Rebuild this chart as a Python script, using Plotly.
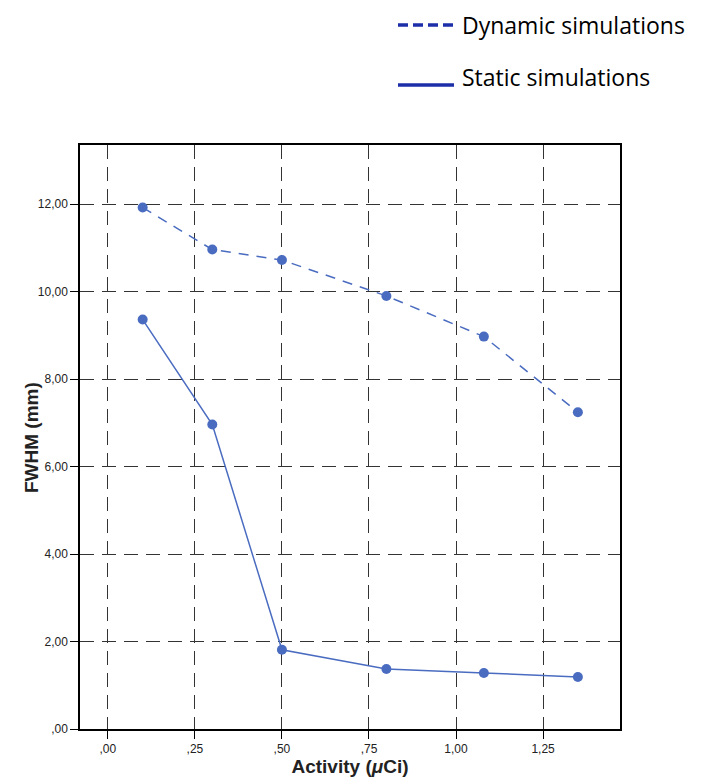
import plotly.graph_objects as go

activity = [0.10, 0.30, 0.50, 0.80, 1.08, 1.35]
fwhm_dynamic = [11.92, 10.96, 10.72, 9.90, 8.97, 7.24]
fwhm_static = [9.36, 6.96, 1.81, 1.37, 1.28, 1.19]

x_tickvals = [0.0, 0.25, 0.5, 0.75, 1.0, 1.25]
x_ticktext = [",00", ",25", ",50", ",75", "1,00", "1,25"]
y_tickvals = [0, 2, 4, 6, 8, 10, 12]
y_ticktext = [",00", "2,00", "4,00", "6,00", "8,00", "10,00", "12,00"]

legend_names = ["Dynamic simulations", "Static simulations"]
x_title = "<b>Activity (<i>μ</i>Ci)</b>"
y_title = "<b>FWHM (mm)</b>"

series_color = "#4a6cc0"
legend_color = "#1c2fa8"
grid_color = "#333333"

fig = go.Figure()
fig.add_trace(go.Scatter(x=activity, y=fwhm_dynamic, mode="lines+markers",
                         line=dict(color=series_color, width=1.5, dash="10px,8px"),
                         marker=dict(color=series_color, size=10),
                         showlegend=False, name=legend_names[0]))
fig.add_trace(go.Scatter(x=activity, y=fwhm_static, mode="lines+markers",
                         line=dict(color=series_color, width=1.5),
                         marker=dict(color=series_color, size=10),
                         showlegend=False, name=legend_names[1]))

OFF = 8  # page body margin
W, H = 716, 779
BX0, BX1, BY0, BY1 = 80, 620, 145, 729
L = BX0 - OFF
T = BY0 - OFF
pw, ph = BX1 - BX0, BY1 - BY0
R = W - L - pw
B = H - T - ph

def px(x):
    return (x - BX0) / pw

def py(y):
    return (BY1 - y) / ph

shapes = [
    dict(type="line", xref="paper", yref="paper", x0=px(398), x1=px(454), y0=py(25), y1=py(25),
         line=dict(color=legend_color, width=3.5, dash="10px,5px")),
    dict(type="line", xref="paper", yref="paper", x0=px(398), x1=px(454), y0=py(85), y1=py(85),
         line=dict(color=legend_color, width=3.5)),
]
annotations = [
    dict(xref="paper", yref="paper", x=px(460), y=py(25), text=legend_names[0], showarrow=False,
         xanchor="left", yanchor="middle", font=dict(family="Open Sans", size=23, color="black")),
    dict(xref="paper", yref="paper", x=px(460), y=py(77), text=legend_names[1], showarrow=False,
         xanchor="left", yanchor="middle", font=dict(family="Open Sans", size=23, color="black")),
    dict(xref="paper", yref="paper", x=px(31), y=py(438), text=y_title, showarrow=False,
         textangle=-90, xanchor="center", yanchor="middle",
         font=dict(family="Liberation Sans", size=19, color="#222222")),
]

fig.update_layout(
    width=W, height=H,
    margin=dict(l=L, r=R, t=T, b=B),
    plot_bgcolor="white", paper_bgcolor="white",
    showlegend=False,
    shapes=shapes, annotations=annotations,
    font=dict(family="Liberation Sans", color="#222222"),
)
fig.update_xaxes(range=[-0.08, 1.471], tickvals=x_tickvals, ticktext=x_ticktext,
                 showgrid=True, gridcolor=grid_color, gridwidth=1.4, griddash="14px,8px",
                 zeroline=False, showline=True, mirror=True, linecolor="black", linewidth=1.5,
                 ticks="outside", ticklen=8, tickcolor="black", tickfont=dict(size=12),
                 title=dict(text=x_title, font=dict(size=19, color="#222222"), standoff=2))
fig.update_yaxes(range=[0, 13.35], tickvals=y_tickvals, ticktext=y_ticktext,
                 showgrid=True, gridcolor=grid_color, gridwidth=1.4, griddash="14px,8px",
                 zeroline=False, showline=True, mirror=True, linecolor="black", linewidth=1.5,
                 ticks="outside", ticklen=8, tickcolor="black", tickfont=dict(size=12))

fig.write_html("out.html")
